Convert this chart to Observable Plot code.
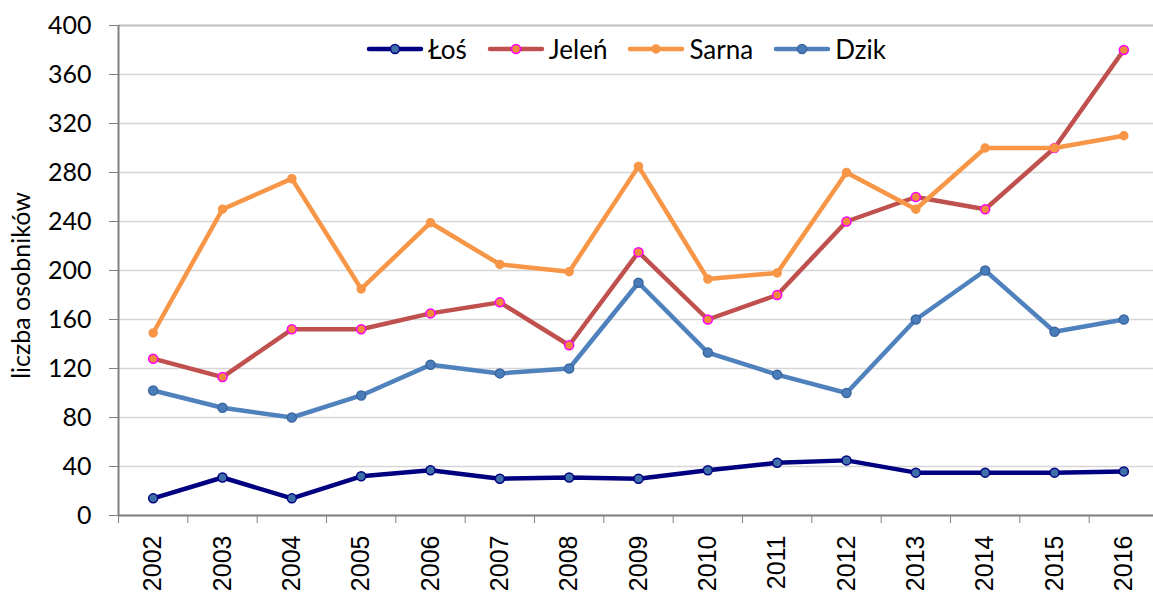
<!DOCTYPE html>
<html>
<head>
<meta charset="utf-8">
<script src="https://cdn.jsdelivr.net/npm/d3@7"></script>
<script src="https://cdn.jsdelivr.net/npm/@observablehq/plot@0.6"></script>
<style>
  html, body { margin: 0; padding: 0; background: #fff; }
  #wrap { position: relative; width: 1153px; height: 595px; font-family: Lato, sans-serif; }
  #legend { position: absolute; top: 34px; left: 366px; display: flex; font-size: 26px; line-height: 30px; color: #000; white-space: nowrap; }
  #legend .item { display: flex; align-items: center; margin-right: 20px; }
  #legend svg { margin-right: 4px; }
</style>
</head>
<body>
<div id="wrap"></div>
<script>
const years = [2002, 2003, 2004, 2005, 2006, 2007, 2008, 2009, 2010, 2011, 2012, 2013, 2014, 2015, 2016];
const los   = [14, 31, 14, 32, 37, 30, 31, 30, 37, 43, 45, 35, 35, 35, 36];
const jelen = [128, 113, 152, 152, 165, 174, 139, 215, 160, 180, 240, 260, 250, 300, 380];
const sarna = [149, 250, 275, 185, 239, 205, 199, 285, 193, 198, 280, 250, 300, 300, 310];
const dzik  = [102, 88, 80, 98, 123, 116, 120, 190, 133, 115, 100, 160, 200, 150, 160];
const seriesNames = ["Łoś", "Jeleń", "Sarna", "Dzik"];
const yTicks = [0, 40, 80, 120, 160, 200, 240, 280, 320, 360, 400];
const yLabel = "liczba osobników";

const styles = {
  "Łoś":   {line: "#000080", width: 4.5, fill: "#3F6FA8", stroke: "#000080", r: 4.5},
  "Jeleń": {line: "#C0504D", width: 4.5, fill: "#F08A3C", stroke: "#FF00FF", r: 4.5},
  "Sarna": {line: "#F79646", width: 4.5, fill: "#F79646", stroke: "#F79646", r: 4},
  "Dzik":  {line: "#4F81BD", width: 4.5, fill: "#4A7EBB", stroke: "#3A66A0", r: 4.5}
};

const valuesBySeries = {"Łoś": los, "Jeleń": jelen, "Sarna": sarna, "Dzik": dzik};
const rows = seriesNames.flatMap(s => years.map((year, i) => ({series: s, year, value: valuesBySeries[s][i]})));
const bounds = years.map(y => y - 0.5).concat([years[years.length - 1] + 0.5]);

const marks = [
  Plot.gridY(yTicks, {stroke: "#d6d6d6", strokeOpacity: 1, strokeWidth: 1.5}),
  Plot.ruleY([yTicks[yTicks.length - 1]], {stroke: "#c4c4c4", strokeWidth: 1.8}),
  Plot.axisY(yTicks, {tickSize: 9, tickPadding: 18, fontSize: 25, stroke: "#808080", label: null}),
  Plot.axisX(years, {tickSize: 0, tickPadding: 20, tickRotate: -90, fontSize: 25, fontFamily: "Liberation Sans, Arial, sans-serif", tickFormat: d => String(d), label: null}),
  Plot.axisX(bounds, {tickSize: 8, stroke: "#808080", tickFormat: () => "", label: null}),
  Plot.ruleY([0], {stroke: "#808080", strokeWidth: 2}),
  Plot.ruleX([bounds[0]], {stroke: "#808080", strokeWidth: 2}),
  Plot.text([yLabel], {frameAnchor: "left", textAnchor: "middle", rotate: -90, dx: -97, dy: 15, fontSize: 25, fill: "#000"})
];
for (const s of seriesNames) {
  const st = styles[s];
  const d = rows.filter(r => r.series === s);
  marks.push(Plot.line(d, {x: "year", y: "value", stroke: st.line, strokeWidth: st.width, strokeLinejoin: "round", strokeLinecap: "round"}));
  marks.push(Plot.dot(d, {x: "year", y: "value", r: st.r, fill: st.fill, stroke: st.stroke, strokeWidth: 1.5}));
}

const chart = Plot.plot({
  width: 1153,
  height: 595,
  marginLeft: 118,
  marginRight: 0,
  marginTop: 25,
  marginBottom: 80,
  style: {fontFamily: "Lato, sans-serif", fontSize: "25px", color: "#000", background: "#fff", overflow: "visible"},
  x: {type: "linear", domain: [bounds[0], bounds[bounds.length - 1]], range: [118, 1158]},
  y: {domain: [0, 400], range: [515, 25]},
  marks
});

const wrap = document.getElementById("wrap");
wrap.appendChild(chart);

const legend = document.createElement("div");
legend.id = "legend";
for (const s of seriesNames) {
  const st = styles[s];
  const item = document.createElement("div");
  item.className = "item";
  item.innerHTML = `<svg width="58" height="14"><line x1="3" y1="7" x2="55" y2="7" stroke="${st.line}" stroke-width="${st.width}" stroke-linecap="round"/><circle cx="29" cy="7" r="${st.r}" fill="${st.fill}" stroke="${st.stroke}" stroke-width="1.5"/></svg><span>${s}</span>`;
  legend.appendChild(item);
}
wrap.appendChild(legend);
</script>
</body>
</html>
